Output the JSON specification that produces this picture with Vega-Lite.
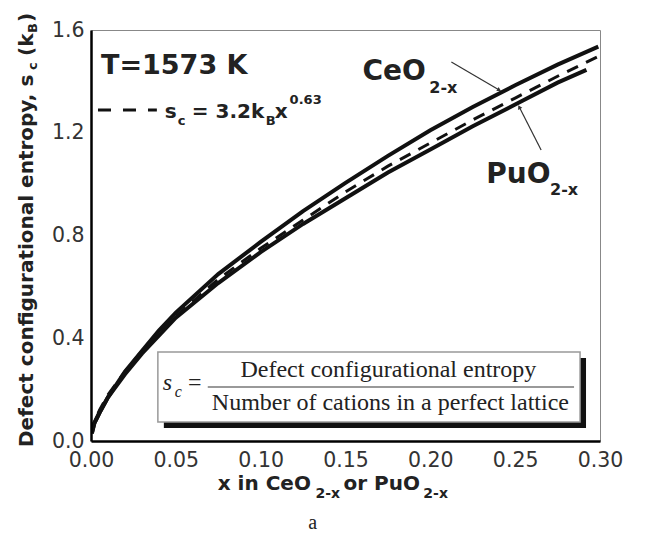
{
  "$schema": "https://vega.github.io/schema/vega-lite/v6.json",
  "autosize": "none",
  "width": 509,
  "height": 411,
  "padding": {"left": 91, "top": 30, "right": 46, "bottom": 92},
  "background": "white",
  "config": {"view": {"stroke": "#888", "strokeWidth": 1}, "font": "DejaVu Sans"},
  "datasets": {
    "curves": [
      {"series": "CeO2-x", "x": 0.0005, "y": 0.03},
      {"series": "CeO2-x", "x": 0.002, "y": 0.07},
      {"series": "CeO2-x", "x": 0.005, "y": 0.11},
      {"series": "CeO2-x", "x": 0.01, "y": 0.17},
      {"series": "CeO2-x", "x": 0.02, "y": 0.27},
      {"series": "CeO2-x", "x": 0.03, "y": 0.35},
      {"series": "CeO2-x", "x": 0.04, "y": 0.43},
      {"series": "CeO2-x", "x": 0.05, "y": 0.50},
      {"series": "CeO2-x", "x": 0.075, "y": 0.65},
      {"series": "CeO2-x", "x": 0.1, "y": 0.775},
      {"series": "CeO2-x", "x": 0.125, "y": 0.895},
      {"series": "CeO2-x", "x": 0.15, "y": 1.005},
      {"series": "CeO2-x", "x": 0.175, "y": 1.11},
      {"series": "CeO2-x", "x": 0.2, "y": 1.21},
      {"series": "CeO2-x", "x": 0.225, "y": 1.30},
      {"series": "CeO2-x", "x": 0.25, "y": 1.385},
      {"series": "CeO2-x", "x": 0.275, "y": 1.465},
      {"series": "CeO2-x", "x": 0.299, "y": 1.535},
      {"series": "PuO2-x", "x": 0.0005, "y": 0.03},
      {"series": "PuO2-x", "x": 0.002, "y": 0.07},
      {"series": "PuO2-x", "x": 0.005, "y": 0.11},
      {"series": "PuO2-x", "x": 0.01, "y": 0.17},
      {"series": "PuO2-x", "x": 0.02, "y": 0.26},
      {"series": "PuO2-x", "x": 0.03, "y": 0.34},
      {"series": "PuO2-x", "x": 0.04, "y": 0.41},
      {"series": "PuO2-x", "x": 0.05, "y": 0.48},
      {"series": "PuO2-x", "x": 0.075, "y": 0.615},
      {"series": "PuO2-x", "x": 0.1, "y": 0.735},
      {"series": "PuO2-x", "x": 0.125, "y": 0.845},
      {"series": "PuO2-x", "x": 0.15, "y": 0.945},
      {"series": "PuO2-x", "x": 0.175, "y": 1.045},
      {"series": "PuO2-x", "x": 0.2, "y": 1.135},
      {"series": "PuO2-x", "x": 0.225, "y": 1.225},
      {"series": "PuO2-x", "x": 0.25, "y": 1.31},
      {"series": "PuO2-x", "x": 0.275, "y": 1.395},
      {"series": "PuO2-x", "x": 0.292, "y": 1.445},
      {"series": "fit", "x": 0.0005, "y": 0.03},
      {"series": "fit", "x": 0.002, "y": 0.075},
      {"series": "fit", "x": 0.005, "y": 0.12},
      {"series": "fit", "x": 0.01, "y": 0.18},
      {"series": "fit", "x": 0.02, "y": 0.27},
      {"series": "fit", "x": 0.03, "y": 0.35},
      {"series": "fit", "x": 0.04, "y": 0.42},
      {"series": "fit", "x": 0.05, "y": 0.485},
      {"series": "fit", "x": 0.075, "y": 0.63},
      {"series": "fit", "x": 0.1, "y": 0.75},
      {"series": "fit", "x": 0.125, "y": 0.86},
      {"series": "fit", "x": 0.15, "y": 0.97},
      {"series": "fit", "x": 0.175, "y": 1.07},
      {"series": "fit", "x": 0.2, "y": 1.16},
      {"series": "fit", "x": 0.225, "y": 1.25},
      {"series": "fit", "x": 0.25, "y": 1.335},
      {"series": "fit", "x": 0.275, "y": 1.42},
      {"series": "fit", "x": 0.3, "y": 1.50}
    ]
  },
  "encoding": {
    "x": {
      "field": "x", "type": "quantitative", "title": null,
      "scale": {"domain": [0, 0.3], "nice": false, "zero": false},
      "axis": {
        "orient": "bottom", "zindex": 2,
        "values": [0, 0.05, 0.1, 0.15, 0.2, 0.25, 0.3],
        "format": ".2f",
        "grid": false, "title": null, "ticks": false,
        "domainColor": "black", "domainWidth": 2.5,
        "labelFont": "DejaVu Sans", "labelFontSize": 20.5, "labelColor": "#333",
        "labelPadding": 9, "labelFlush": false, "labelOverlap": false
      }
    },
    "y": {
      "field": "y", "type": "quantitative", "title": null,
      "scale": {"domain": [0, 1.6], "nice": false, "zero": false},
      "axis": {
        "orient": "left", "zindex": 2,
        "values": [0, 0.4, 0.8, 1.2, 1.6],
        "format": ".1f",
        "grid": false, "title": null, "ticks": false,
        "domainColor": "black", "domainWidth": 2.5,
        "labelFont": "DejaVu Sans", "labelFontSize": 20.5, "labelColor": "#333",
        "labelPadding": 7, "labelFlush": false, "labelOverlap": false
      }
    }
  },
  "layer": [
    {
      "data": {"values": [{"x": 0.04294, "y": 0.32311, "x2": 0.29176, "y2": 0.05061}]},
      "mark": {"type": "rect", "color": "#111"},
      "encoding": {"x2": {"field": "x2"}, "y2": {"field": "y2"}}
    },
    {
      "data": {"values": [{"x": 0.03941, "y": 0.34647, "x2": 0.28824, "y2": 0.07397}]},
      "mark": {"type": "rect", "fill": "white", "stroke": "#999", "strokeWidth": 1.5},
      "encoding": {"x2": {"field": "x2"}, "y2": {"field": "y2"}}
    },
    {
      "data": {"values": [{"x": 0.06882, "y": 0.21022, "x2": 0.28471}]},
      "mark": {"type": "rule", "color": "#777", "strokeWidth": 1.5},
      "encoding": {"x2": {"field": "x2"}}
    },
    {
      "data": {"values": [
        {"x": 0.17529, "y": 0.24915, "text": "Defect configurational entropy"},
        {"x": 0.17647, "y": 0.12068, "text": "Number of cations in a perfect lattice"},
        {"x": 0.06118, "y": 0.19854, "text": "="}
      ]},
      "mark": {"type": "text", "align": "center", "baseline": "alphabetic", "font": "Liberation Serif", "fontSize": 24, "color": "#222"},
      "encoding": {"text": {"field": "text"}}
    },
    {
      "data": {"values": [{"x": 0.04235, "y": 0.19854, "text": "s"}]},
      "mark": {"type": "text", "align": "left", "baseline": "alphabetic", "font": "Liberation Serif", "fontStyle": "italic", "fontSize": 24, "color": "#222"},
      "encoding": {"text": {"field": "text"}}
    },
    {
      "data": {"values": [{"x": 0.04941, "y": 0.17129, "text": "c"}]},
      "mark": {"type": "text", "align": "left", "baseline": "alphabetic", "font": "Liberation Serif", "fontStyle": "italic", "fontSize": 16, "color": "#222"},
      "encoding": {"text": {"field": "text"}}
    },
    {
      "data": {"values": [{"x": 0}, {"x": 0.05}, {"x": 0.1}, {"x": 0.15}, {"x": 0.2}, {"x": 0.25}, {"x": 0.3}]},
      "mark": {"type": "rule", "color": "black", "strokeWidth": 3},
      "encoding": {"y": {"datum": 0}, "y2": {"datum": 0.035}}
    },
    {
      "data": {"values": [{"x": 0.025}, {"x": 0.075}, {"x": 0.125}, {"x": 0.175}, {"x": 0.225}, {"x": 0.275}]},
      "mark": {"type": "rule", "color": "black", "strokeWidth": 2.5},
      "encoding": {"y": {"datum": 0}, "y2": {"datum": 0.022}}
    },
    {
      "data": {"values": [{"y": 0}, {"y": 0.4}, {"y": 0.8}, {"y": 1.2}, {"y": 1.6}]},
      "mark": {"type": "rule", "color": "black", "strokeWidth": 3},
      "encoding": {"x": {"datum": 0}, "x2": {"datum": 0.0053}}
    },
    {
      "data": {"values": [{"y": 0.2}, {"y": 0.6}, {"y": 1.0}, {"y": 1.4}]},
      "mark": {"type": "rule", "color": "black", "strokeWidth": 2.5},
      "encoding": {"x": {"datum": 0}, "x2": {"datum": 0.0033}}
    },
    {
      "data": {"name": "curves"},
      "transform": [{"filter": "datum.series != 'fit'"}],
      "mark": {"type": "line", "color": "#111", "strokeWidth": 4, "clip": true},
      "encoding": {"detail": {"field": "series"}}
    },
    {
      "data": {"name": "curves"},
      "transform": [{"filter": "datum.series == 'fit'"}],
      "mark": {"type": "line", "color": "#111", "strokeWidth": 3, "strokeDash": [12, 9], "clip": true},
      "encoding": {}
    },
    {
      "data": {"values": [{"x": 0.00412, "y": 1.2886, "x2": 0.03882}]},
      "mark": {"type": "rule", "color": "#111", "strokeWidth": 3, "strokeDash": [13, 12]},
      "encoding": {"x2": {"field": "x2"}}
    },
    {
      "data": {"values": [
        {"x": 0.2124, "y": 1.4754, "x2": 0.2406, "y2": 1.3665},
        {"x": 0.2653, "y": 1.1329, "x2": 0.2524, "y2": 1.3002}
      ]},
      "mark": {"type": "rule", "color": "#333", "strokeWidth": 1.2},
      "encoding": {"x2": {"field": "x2"}, "y2": {"field": "y2"}}
    },
    {
      "data": {"values": [{"x": 0.2406, "y": 1.3665}]},
      "mark": {"type": "point", "shape": "triangle-up", "filled": true, "color": "#333", "size": 22, "angle": 120, "opacity": 1},
      "encoding": {}
    },
    {
      "data": {"values": [{"x": 0.2524, "y": 1.3002}]},
      "mark": {"type": "point", "shape": "triangle-up", "filled": true, "color": "#333", "size": 22, "angle": 333, "opacity": 1},
      "encoding": {}
    },
    {
      "data": {"values": [{"x": 0.00588, "y": 1.4287, "text": "T=1573 K"}]},
      "mark": {"type": "text", "align": "left", "baseline": "alphabetic", "font": "DejaVu Sans", "fontWeight": "bold", "fontSize": 27, "color": "#222"},
      "encoding": {"text": {"field": "text"}}
    },
    {
      "data": {"values": [
        {"x": 0.16, "y": 1.4054, "text": "CeO"},
        {"x": 0.23294, "y": 1.0044, "text": "PuO"}
      ]},
      "mark": {"type": "text", "align": "left", "baseline": "alphabetic", "font": "DejaVu Sans", "fontWeight": "bold", "fontSize": 28, "color": "#222"},
      "encoding": {"text": {"field": "text"}}
    },
    {
      "data": {"values": [
        {"x": 0.19941, "y": 1.3547, "text": "2-x"},
        {"x": 0.27059, "y": 0.95766, "text": "2-x"}
      ]},
      "mark": {"type": "text", "align": "left", "baseline": "alphabetic", "font": "DejaVu Sans", "fontWeight": "bold", "fontSize": 16, "color": "#222"},
      "encoding": {"text": {"field": "text"}}
    },
    {
      "data": {"values": [
        {"x": 0.04353, "y": 1.2574, "text": "s"},
        {"x": 0.05941, "y": 1.2574, "text": "= 3.2k"},
        {"x": 0.10824, "y": 1.2574, "text": "x"}
      ]},
      "mark": {"type": "text", "align": "left", "baseline": "alphabetic", "font": "DejaVu Sans", "fontWeight": "bold", "fontSize": 20, "color": "#222"},
      "encoding": {"text": {"field": "text"}}
    },
    {
      "data": {"values": [
        {"x": 0.05118, "y": 1.2302, "text": "c"},
        {"x": 0.10294, "y": 1.2302, "text": "B"},
        {"x": 0.11706, "y": 1.3119, "text": "0.63"}
      ]},
      "mark": {"type": "text", "align": "left", "baseline": "alphabetic", "font": "DejaVu Sans", "fontWeight": "bold", "fontSize": 13, "color": "#222"},
      "encoding": {"text": {"field": "text"}}
    },
    {
      "data": {"values": [
        {"x": -0.03412, "y": -0.02336, "text": "Defect configurational entropy, s"},
        {"x": -0.03412, "y": 1.4988, "text": "(k"},
        {"x": -0.03412, "y": 1.6311, "text": ")"}
      ]},
      "mark": {"type": "text", "align": "left", "baseline": "alphabetic", "angle": 270, "font": "DejaVu Sans", "fontWeight": "bold", "fontSize": 20, "color": "#222"},
      "encoding": {"text": {"field": "text"}}
    },
    {
      "data": {"values": [
        {"x": -0.03176, "y": 1.4443, "text": "c"},
        {"x": -0.03176, "y": 1.5883, "text": "B"}
      ]},
      "mark": {"type": "text", "align": "left", "baseline": "alphabetic", "angle": 270, "font": "DejaVu Sans", "fontWeight": "bold", "fontSize": 13, "color": "#222"},
      "encoding": {"text": {"field": "text"}}
    },
    {
      "data": {"values": [
        {"x": 0.07471, "y": -0.19076, "text": "x in CeO"},
        {"x": 0.14882, "y": -0.19076, "text": "or PuO"}
      ]},
      "mark": {"type": "text", "align": "left", "baseline": "alphabetic", "font": "DejaVu Sans", "fontWeight": "bold", "fontSize": 20, "color": "#222"},
      "encoding": {"text": {"field": "text"}}
    },
    {
      "data": {"values": [
        {"x": 0.13235, "y": -0.2219, "text": "2-x"},
        {"x": 0.19588, "y": -0.2219, "text": "2-x"}
      ]},
      "mark": {"type": "text", "align": "left", "baseline": "alphabetic", "font": "DejaVu Sans", "fontWeight": "bold", "fontSize": 14, "color": "#222"},
      "encoding": {"text": {"field": "text"}}
    },
    {
      "data": {"values": [{"x": 0.13059, "y": -0.34258, "text": "a"}]},
      "mark": {"type": "text", "align": "center", "baseline": "alphabetic", "font": "Liberation Serif", "fontSize": 20, "color": "#222"},
      "encoding": {"text": {"field": "text"}}
    }
  ]
}
